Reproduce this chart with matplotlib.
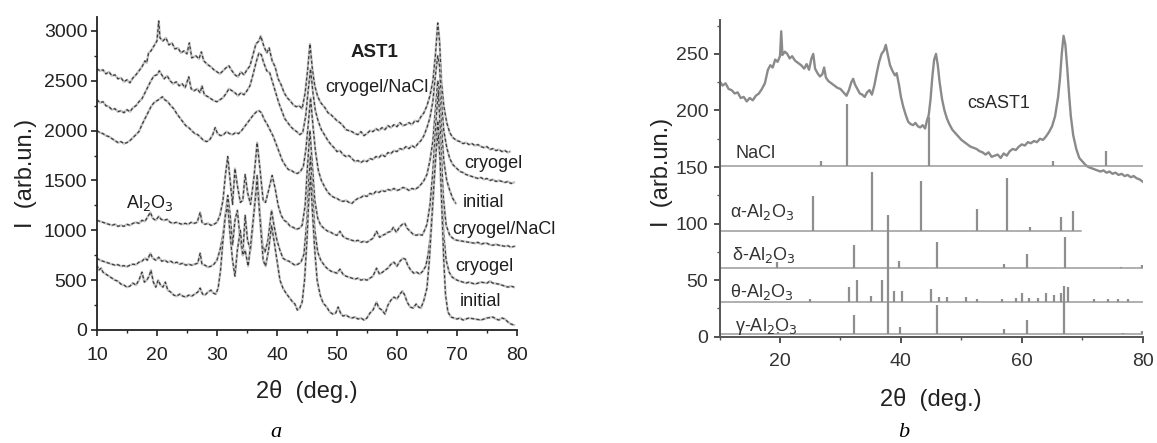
import numpy as np
import matplotlib
matplotlib.use("Agg")
import matplotlib.pyplot as plt

plt.rcParams["font.family"] = ["Liberation Sans", "DejaVu Sans"]

# ---- panel a: XRD patterns (2theta, intensity) ----
ast1_nacl = [
    (10.0, 2620), (10.5, 2600), (11.0, 2610), (11.5, 2570), (12.0, 2590), (12.5, 2550),
    (13.0, 2560), (13.5, 2520), (14.0, 2530), (14.5, 2490), (15.0, 2510), (15.5, 2480),
    (16.0, 2530), (16.5, 2560), (17.0, 2600), (17.5, 2640), (18.0, 2700), (18.3, 2680),
    (18.6, 2780), (19.0, 2800), (19.5, 2850), (20.0, 2900), (20.3, 3100), (20.5, 2930),
    (21.0, 2900), (21.5, 2930), (22.0, 2860), (22.5, 2880), (23.0, 2820), (23.5, 2830),
    (24.0, 2780), (24.5, 2800), (25.0, 2770), (25.4, 2880), (25.8, 2730), (26.5, 2750),
    (27.0, 2720), (27.4, 2790), (27.8, 2700), (28.5, 2660), (29.0, 2640), (29.5, 2610),
    (30.0, 2590), (30.5, 2570), (31.0, 2600), (31.5, 2630), (32.0, 2650), (32.5, 2600),
    (33.0, 2560), (33.5, 2540), (34.0, 2590), (34.5, 2560), (35.0, 2610), (35.5, 2650),
    (36.0, 2760), (36.5, 2870), (37.0, 2900), (37.3, 2950), (37.8, 2850), (38.3, 2780),
    (38.7, 2830), (39.2, 2700), (39.7, 2640), (40.2, 2520), (40.7, 2460), (41.2, 2380),
    (41.7, 2330), (42.2, 2300), (42.7, 2260), (43.2, 2240), (43.7, 2250), (44.2, 2220),
    (44.7, 2380), (45.1, 2600), (45.5, 2870), (45.9, 2620), (46.3, 2450), (46.8, 2340),
    (47.3, 2280), (48.0, 2230), (48.5, 2180), (49.0, 2160), (49.5, 2130), (50.0, 2100),
    (50.5, 2080), (51.0, 2050), (51.5, 2010), (52.0, 2000), (52.5, 1990), (53.0, 1970),
    (53.5, 1960), (54.0, 1990), (54.5, 1950), (55.0, 1970), (55.5, 2000), (56.0, 1990),
    (56.5, 2020), (57.0, 2000), (57.5, 2030), (58.0, 2010), (58.5, 2050), (59.0, 2030),
    (59.5, 2060), (60.0, 2040), (60.5, 2080), (61.0, 2050), (61.5, 2060), (62.0, 2080),
    (62.5, 2060), (63.0, 2100), (63.5, 2090), (64.0, 2140), (64.5, 2180), (65.0, 2250),
    (65.5, 2350), (66.0, 2500), (66.4, 2750), (66.8, 3080), (67.1, 2900), (67.4, 2500),
    (67.8, 2250), (68.3, 2080), (68.8, 1980), (69.3, 1930), (70.0, 1900), (70.5, 1890),
    (71.0, 1870), (71.5, 1880), (72.0, 1860), (72.5, 1870), (73.0, 1850), (73.5, 1860),
    (74.0, 1840), (74.5, 1830), (75.0, 1840), (75.5, 1810), (76.0, 1820), (76.5, 1800),
    (77.0, 1810), (77.5, 1790), (78.0, 1800), (78.5, 1780), (78.8, 1790),
]

ast1_cryogel = [
    (10.0, 2310), (10.5, 2280), (11.0, 2290), (11.5, 2250), (12.0, 2240), (12.5, 2210),
    (13.0, 2220), (13.5, 2190), (14.0, 2200), (14.5, 2180), (15.0, 2210), (15.5, 2190),
    (16.0, 2230), (16.5, 2250), (17.0, 2290), (17.5, 2320), (18.0, 2380), (18.5, 2440),
    (19.0, 2500), (19.5, 2550), (20.0, 2560), (20.4, 2600), (20.8, 2560), (21.2, 2520),
    (21.7, 2550), (22.2, 2500), (22.7, 2470), (23.2, 2490), (23.7, 2450), (24.2, 2470),
    (24.7, 2430), (25.3, 2540), (25.7, 2420), (26.2, 2400), (26.7, 2420), (27.2, 2380),
    (27.5, 2450), (27.9, 2360), (28.5, 2340), (29.0, 2320), (29.5, 2300), (30.0, 2290),
    (30.5, 2310), (31.0, 2330), (31.5, 2370), (32.0, 2420), (32.5, 2400), (33.0, 2380),
    (33.5, 2350), (34.0, 2380), (34.5, 2360), (35.0, 2400), (35.5, 2450), (36.0, 2560),
    (36.5, 2680), (37.0, 2780), (37.4, 2760), (37.8, 2680), (38.3, 2600), (38.8, 2580),
    (39.3, 2480), (39.8, 2380), (40.3, 2280), (40.8, 2200), (41.3, 2120), (41.8, 2080),
    (42.3, 2040), (42.8, 2010), (43.3, 1990), (43.8, 1960), (44.3, 1980), (44.8, 2150),
    (45.2, 2400), (45.6, 2620), (46.0, 2380), (46.4, 2200), (46.9, 2090), (47.4, 2010),
    (48.0, 1950), (48.5, 1900), (49.0, 1860), (49.5, 1830), (50.0, 1790), (50.5, 1800),
    (51.0, 1760), (51.5, 1740), (52.0, 1750), (52.5, 1720), (53.0, 1690), (53.5, 1700),
    (54.0, 1680), (54.5, 1700), (55.0, 1690), (55.5, 1720), (56.0, 1710), (56.5, 1740),
    (57.0, 1730), (57.5, 1760), (58.0, 1740), (58.5, 1780), (59.0, 1770), (59.5, 1800),
    (60.0, 1790), (60.5, 1820), (61.0, 1810), (61.5, 1840), (62.0, 1820), (62.5, 1850),
    (63.0, 1830), (63.5, 1870), (64.0, 1900), (64.5, 1950), (65.0, 2030), (65.5, 2130),
    (66.0, 2300), (66.4, 2550), (66.8, 2750), (67.1, 2650), (67.4, 2300), (67.8, 2000),
    (68.3, 1830), (68.8, 1720), (69.3, 1660), (70.0, 1620), (70.5, 1590), (71.0, 1580),
    (71.5, 1560), (72.0, 1550), (72.5, 1540), (73.0, 1530), (73.5, 1520), (74.0, 1530),
    (74.5, 1510), (75.0, 1520), (75.5, 1500), (76.0, 1510), (76.5, 1490), (77.0, 1500),
    (77.5, 1490), (78.0, 1480), (78.5, 1490), (79.0, 1470), (79.5, 1480),
]

ast1_initial = [
    (10.0, 2000), (10.5, 1980), (11.0, 1970), (11.5, 1950), (12.0, 1940), (12.5, 1920),
    (13.0, 1900), (13.5, 1880), (14.0, 1890), (14.5, 1870), (15.0, 1880), (15.5, 1900),
    (16.0, 1930), (16.5, 1960), (17.0, 1990), (17.5, 2060), (18.0, 2120), (18.5, 2180),
    (19.0, 2240), (19.5, 2280), (20.0, 2300), (20.5, 2320), (20.9, 2340), (21.3, 2310),
    (21.8, 2290), (22.3, 2250), (22.8, 2220), (23.3, 2170), (23.8, 2130), (24.3, 2090),
    (24.8, 2050), (25.3, 2030), (25.8, 2000), (26.3, 1970), (26.8, 1960), (27.3, 1930),
    (27.8, 1900), (28.3, 1890), (28.8, 1910), (29.3, 1960), (29.7, 2030), (30.1, 1970),
    (30.6, 1950), (31.1, 1960), (31.6, 1990), (32.1, 1970), (32.6, 1960), (33.1, 1980),
    (33.6, 1970), (34.1, 2000), (34.6, 2040), (35.1, 2080), (35.6, 2120), (36.1, 2160),
    (36.6, 2190), (37.0, 2200), (37.4, 2180), (37.9, 2110), (38.4, 2060), (38.9, 2000),
    (39.4, 1940), (39.9, 1860), (40.4, 1780), (40.9, 1700), (41.4, 1650), (41.9, 1610),
    (42.4, 1600), (42.9, 1580), (43.4, 1570), (43.9, 1590), (44.4, 1640), (44.8, 1800),
    (45.2, 2050), (45.6, 2330), (46.0, 2050), (46.4, 1800), (46.9, 1600), (47.4, 1500),
    (48.0, 1430), (48.5, 1380), (49.0, 1350), (49.5, 1330), (50.0, 1320), (50.5, 1300),
    (51.0, 1290), (51.5, 1300), (52.0, 1280), (52.5, 1270), (53.0, 1300), (53.5, 1320),
    (54.0, 1330), (54.5, 1350), (55.0, 1340), (55.5, 1370), (56.0, 1360), (56.5, 1390),
    (57.0, 1380), (57.5, 1400), (58.0, 1390), (58.5, 1410), (59.0, 1400), (59.5, 1420),
    (60.0, 1400), (60.5, 1410), (61.0, 1430), (61.5, 1420), (62.0, 1400), (62.5, 1420),
    (63.0, 1410), (63.5, 1430), (64.0, 1460), (64.5, 1500), (65.0, 1560), (65.5, 1700),
    (66.0, 1900), (66.4, 2200), (66.8, 2500), (67.1, 2400), (67.4, 2050), (67.8, 1700),
    (68.3, 1500), (68.8, 1400), (69.3, 1320), (69.8, 1270),
]

al2o3_nacl = [
    (10.0, 1100), (10.5, 1090), (11.0, 1080), (11.5, 1070), (12.0, 1060), (12.5, 1050),
    (13.0, 1060), (13.5, 1040), (14.0, 1050), (14.5, 1040), (15.0, 1060), (15.5, 1050),
    (16.0, 1070), (16.5, 1080), (17.0, 1070), (17.5, 1100), (18.0, 1090), (18.5, 1140),
    (18.9, 1180), (19.3, 1120), (19.8, 1100), (20.3, 1140), (20.7, 1110), (21.2, 1100),
    (21.7, 1110), (22.2, 1080), (22.7, 1070), (23.2, 1080), (23.7, 1070), (24.2, 1060),
    (24.7, 1070), (25.2, 1060), (25.7, 1080), (26.2, 1070), (26.7, 1080), (27.2, 1180),
    (27.5, 1080), (28.0, 1060), (28.5, 1070), (29.0, 1050), (29.5, 1060), (30.0, 1080),
    (30.5, 1150), (31.0, 1300), (31.4, 1550), (31.8, 1740), (32.2, 1500), (32.6, 1260),
    (33.0, 1620), (33.4, 1450), (33.9, 1280), (34.3, 1300), (34.7, 1560), (35.1, 1380),
    (35.6, 1260), (36.2, 1550), (36.7, 1880), (37.2, 1600), (37.7, 1300), (38.1, 1280),
    (38.6, 1400), (39.2, 1550), (39.7, 1420), (40.2, 1250), (40.7, 1150), (41.2, 1100),
    (41.7, 1080), (42.2, 1040), (42.7, 1030), (43.2, 1010), (43.7, 1020), (44.2, 1050),
    (44.7, 1250), (45.1, 1650), (45.5, 2000), (45.9, 1650), (46.3, 1300), (46.8, 1120),
    (47.3, 1050), (48.0, 1010), (48.5, 990), (49.0, 980), (49.5, 960), (50.0, 950),
    (50.5, 990), (51.0, 940), (51.5, 920), (52.0, 910), (52.5, 900), (53.0, 890),
    (53.5, 900), (54.0, 880), (54.5, 890), (55.0, 880), (55.5, 900), (56.0, 920),
    (56.6, 990), (57.1, 930), (57.6, 950), (58.0, 960), (58.5, 980), (59.0, 990),
    (59.4, 1030), (59.9, 980), (60.4, 1030), (60.9, 1060), (61.3, 1070), (61.7, 1020),
    (62.2, 990), (62.7, 960), (63.2, 950), (63.7, 960), (64.2, 950), (64.6, 1000),
    (65.0, 1060), (65.5, 1250), (66.0, 1600), (66.5, 2100), (66.9, 2400), (67.3, 1900),
    (67.7, 1350), (68.2, 1050), (68.8, 950), (69.5, 910), (70.0, 900), (70.5, 895),
    (71.0, 890), (71.5, 885), (72.0, 880), (72.5, 875), (73.0, 870), (73.5, 880),
    (74.0, 860), (74.5, 870), (75.0, 870), (75.5, 855), (76.0, 850), (76.5, 860),
    (77.0, 850), (77.5, 845), (78.0, 840), (78.5, 845), (79.0, 830), (79.6, 840),
]

al2o3_cryogel = [
    (10.0, 720), (10.5, 700), (11.0, 690), (11.5, 680), (12.0, 670), (12.5, 660),
    (13.0, 650), (13.5, 655), (14.0, 640), (14.5, 645), (15.0, 635), (15.5, 650),
    (16.0, 660), (16.5, 655), (17.0, 680), (17.5, 690), (18.0, 720), (18.4, 700),
    (18.9, 770), (19.3, 720), (19.8, 700), (20.3, 730), (20.8, 690), (21.3, 700),
    (21.8, 680), (22.3, 690), (22.8, 670), (23.3, 680), (23.8, 660), (24.3, 670),
    (24.8, 650), (25.3, 660), (25.8, 650), (26.3, 660), (26.8, 670), (27.2, 770),
    (27.5, 660), (28.0, 650), (28.5, 630), (29.0, 640), (29.5, 660), (30.0, 700),
    (30.5, 800), (31.0, 950), (31.4, 1150), (31.8, 1350), (32.2, 1150), (32.6, 850),
    (33.0, 1100), (33.4, 1200), (33.9, 900), (34.3, 750), (34.7, 1150), (35.1, 900),
    (35.6, 800), (36.2, 1200), (36.7, 1550), (37.1, 1200), (37.6, 850), (38.0, 780),
    (38.5, 900), (39.1, 1200), (39.5, 1050), (40.0, 900), (40.5, 800), (41.0, 720),
    (41.5, 700), (42.0, 690), (42.5, 670), (43.0, 650), (43.5, 660), (44.0, 680),
    (44.5, 760), (45.0, 1100), (45.3, 1500), (45.6, 1750), (45.9, 1400), (46.3, 1000),
    (46.8, 780), (47.3, 700), (48.0, 640), (48.5, 610), (49.0, 590), (49.5, 580),
    (50.0, 570), (50.5, 610), (51.0, 560), (51.5, 540), (52.0, 530), (52.5, 520),
    (53.0, 510), (53.5, 520), (54.0, 500), (54.5, 510), (55.0, 500), (55.5, 520),
    (56.0, 540), (56.6, 620), (57.1, 560), (57.6, 580), (58.0, 600), (58.5, 620),
    (59.0, 660), (59.5, 680), (60.0, 640), (60.5, 690), (61.0, 720), (61.4, 710),
    (61.8, 650), (62.3, 600), (62.8, 570), (63.3, 580), (63.8, 560), (64.3, 590),
    (64.8, 640), (65.2, 760), (65.6, 950), (66.0, 1300), (66.4, 1750), (66.8, 2100),
    (67.1, 1900), (67.4, 1400), (67.8, 950), (68.2, 700), (68.7, 580), (69.2, 530),
    (70.0, 500), (70.5, 490), (71.0, 480), (71.5, 470), (72.0, 480), (72.5, 470),
    (73.0, 460), (74.0, 480), (75.0, 470), (75.5, 490), (76.0, 470), (77.0, 460),
    (78.0, 440), (78.5, 430), (79.0, 440), (79.5, 430),
]

al2o3_initial = [
    (10.0, 650), (10.3, 600), (10.7, 620), (11.0, 580), (11.5, 560), (12.0, 540),
    (12.5, 520), (13.0, 500), (13.5, 490), (14.0, 460), (14.5, 450), (15.0, 430),
    (15.5, 440), (16.0, 470), (16.5, 450), (17.0, 500), (17.5, 580), (17.9, 480),
    (18.3, 500), (18.7, 540), (19.0, 600), (19.4, 480), (19.8, 430), (20.2, 500),
    (20.6, 450), (21.0, 430), (21.4, 480), (21.8, 400), (22.3, 380), (22.8, 350),
    (23.3, 340), (23.8, 360), (24.3, 340), (24.8, 330), (25.3, 350), (25.8, 340),
    (26.3, 360), (26.8, 380), (27.2, 420), (27.6, 360), (28.0, 350), (28.5, 380),
    (29.0, 400), (29.4, 370), (29.8, 360), (30.2, 420), (30.6, 600), (31.0, 900),
    (31.4, 1150), (31.8, 1250), (32.2, 950), (32.6, 700), (33.0, 540), (33.4, 800),
    (33.9, 1000), (34.3, 750), (34.7, 800), (35.2, 640), (35.7, 900), (36.2, 1200),
    (36.7, 1500), (37.2, 1100), (37.7, 700), (38.1, 640), (38.6, 800), (39.1, 1050),
    (39.5, 900), (40.0, 700), (40.5, 500), (41.0, 420), (41.5, 370), (42.0, 330),
    (42.5, 290), (43.0, 260), (43.4, 200), (43.8, 220), (44.2, 280), (44.6, 500),
    (45.0, 900), (45.3, 1300), (45.6, 1550), (45.9, 1200), (46.3, 800), (46.7, 500),
    (47.2, 350), (47.7, 270), (48.3, 230), (48.8, 180), (49.3, 160), (49.8, 170),
    (50.2, 230), (50.6, 170), (51.0, 140), (51.5, 150), (52.0, 130), (52.5, 120),
    (53.0, 130), (53.5, 110), (54.0, 120), (54.5, 100), (55.0, 120), (55.5, 170),
    (56.0, 200), (56.6, 280), (57.0, 220), (57.5, 200), (58.0, 160), (58.5, 250),
    (59.0, 300), (59.5, 330), (60.0, 310), (60.5, 360), (60.9, 390), (61.3, 350),
    (61.7, 280), (62.2, 230), (62.7, 220), (63.2, 260), (63.6, 230), (64.0, 220),
    (64.5, 300), (65.0, 420), (65.4, 700), (65.8, 1100), (66.2, 1500), (66.6, 1850),
    (66.9, 1950), (67.2, 1700), (67.5, 1200), (67.8, 700), (68.1, 350), (68.5, 180),
    (69.0, 130), (69.5, 120), (70.0, 110), (70.5, 120), (71.0, 100), (71.5, 110),
    (72.0, 120), (73.0, 110), (74.0, 100), (75.0, 120), (76.0, 130), (76.5, 110),
    (77.0, 100), (77.5, 120), (78.0, 110), (78.5, 80), (79.0, 60), (79.5, 50),
]

# ---- panel b: csAST1 pattern and reference sticks ----
csast1 = [
    (10.0, 226), (10.5, 222), (11.0, 224), (11.5, 219), (12.0, 218), (12.5, 215),
    (13.0, 216), (13.5, 211), (14.0, 212), (14.5, 208), (15.0, 211), (15.5, 209),
    (16.0, 213), (16.5, 215), (17.0, 219), (17.5, 224), (18.0, 236), (18.4, 240),
    (18.8, 238), (19.2, 245), (19.6, 243), (20.0, 248), (20.2, 270), (20.4, 249),
    (20.8, 252), (21.2, 250), (21.6, 246), (22.0, 248), (22.5, 244), (23.0, 242),
    (23.5, 240), (24.0, 237), (24.4, 241), (24.8, 236), (25.2, 246), (25.5, 250),
    (25.8, 237), (26.2, 233), (26.6, 230), (27.0, 232), (27.3, 238), (27.6, 229),
    (28.0, 226), (28.5, 224), (29.0, 222), (29.5, 220), (30.0, 219), (30.5, 216),
    (31.0, 213), (31.4, 218), (31.8, 225), (32.1, 228), (32.4, 223), (32.8, 219),
    (33.2, 215), (33.6, 214), (34.0, 212), (34.4, 216), (34.8, 218), (35.2, 214),
    (35.6, 222), (36.0, 233), (36.4, 243), (36.8, 250), (37.2, 253), (37.5, 258),
    (37.8, 250), (38.2, 240), (38.6, 235), (39.0, 231), (39.3, 233), (39.7, 222),
    (40.0, 212), (40.4, 203), (40.8, 196), (41.2, 190), (41.6, 188), (42.0, 187),
    (42.4, 189), (42.8, 186), (43.2, 185), (43.6, 187), (44.0, 184), (44.3, 191),
    (44.6, 196), (44.9, 210), (45.2, 230), (45.5, 245), (45.8, 250), (46.1, 240),
    (46.4, 225), (46.8, 210), (47.2, 200), (47.6, 193), (48.0, 188), (48.5, 183),
    (49.0, 180), (49.5, 177), (50.0, 174), (50.5, 172), (51.0, 170), (51.5, 168),
    (52.0, 167), (52.5, 166), (53.0, 164), (53.5, 163), (54.0, 161), (54.5, 163),
    (55.0, 159), (55.5, 160), (56.0, 161), (56.5, 158), (57.0, 162), (57.5, 160),
    (58.0, 164), (58.5, 166), (59.0, 165), (59.5, 168), (60.0, 170), (60.5, 169),
    (61.0, 172), (61.5, 171), (62.0, 173), (62.5, 172), (63.0, 175), (63.5, 174),
    (64.0, 177), (64.5, 181), (65.0, 186), (65.5, 195), (66.0, 212), (66.3, 228),
    (66.6, 250), (66.9, 266), (67.2, 258), (67.5, 238), (67.8, 215), (68.1, 195),
    (68.5, 178), (69.0, 166), (69.5, 158), (70.0, 155), (70.5, 152), (71.0, 150),
    (71.5, 149), (72.0, 148), (72.5, 147), (73.0, 146), (73.5, 147), (74.0, 145),
    (74.5, 146), (75.0, 144), (75.5, 145), (76.0, 143), (76.5, 144), (77.0, 142),
    (77.5, 143), (78.0, 141), (78.5, 142), (79.0, 140), (79.5, 139), (80.0, 137),
]

# reference patterns: peak positions and heights above each baseline
nacl_pos = [26.8, 31.1, 44.6, 65.2, 74.0]
nacl_h = [4, 55, 43, 4, 13]
alpha_pos = [25.5, 35.2, 43.4, 52.6, 57.5, 61.4, 66.5, 68.4]
alpha_h = [31, 53, 45, 20, 47, 4, 13, 18]
delta_pos = [19.5, 32.2, 37.8, 39.6, 46.0, 57.1, 60.9, 67.1, 76.4, 79.9]
delta_h = [5, 20, 47, 6, 23, 3, 12, 27, 1, 2]
theta_pos = [25.0, 31.4, 32.7, 35.0, 36.9, 37.8, 38.8, 40.2, 44.9, 46.3, 47.7,
             50.7, 52.6, 56.8, 59.0, 60.1, 61.2, 62.6, 64.0, 65.4, 66.5, 67.6,
             71.9, 74.2, 75.9, 77.5]
theta_h = [2, 13, 19, 5, 19, 30, 9, 9, 11, 4, 4, 4, 2, 2, 3, 8, 3, 3, 8, 6, 8, 13,
           2, 2, 2, 2]
gamma_pos = [19.7, 32.2, 37.8, 39.8, 46.0, 57.1, 60.9, 67.0, 76.7, 79.9]
gamma_h = [2, 17, 29, 7, 26, 5, 13, 43, 1, 3]

ref_names = ["NaCl", "α-Al$_2$O$_3$", "δ-Al$_2$O$_3$", "θ-Al$_2$O$_3$", "γ-Al$_2$O$_3$"]
ref_base = [151, 93, 61, 31, 2]
ref_end = [80, 69.8, 80, 80, 80]

fig = plt.figure(figsize=(11.57, 4.43), dpi=100)

# ================= panel a =================
ax = fig.add_axes([0.0838, 0.2551, 0.3630, 0.7065])
curves = [ast1_nacl, ast1_cryogel, ast1_initial, al2o3_nacl, al2o3_cryogel, al2o3_initial]
for c in curves:
    x, y = np.array(c).T
    ax.plot(x, y, color="#c4c4c4", lw=1.7, solid_joinstyle="round")
    ax.plot(x, y, color="#3c3c3c", lw=0.9, linestyle=(0, (2.5, 1.8)))

ax.set_xlim(10, 80)
ax.set_ylim(0, 3140)
ax.set_xticks(np.arange(10, 81, 10))
ax.set_xticks(np.arange(15, 80, 10), minor=True)
ax.set_yticks(np.arange(0, 3001, 500))
ax.set_yticks(np.arange(250, 3001, 500), minor=True)
for s in ["top", "right"]:
    ax.spines[s].set_visible(False)
for s in ["left", "bottom"]:
    ax.spines[s].set_linewidth(1.3)
    ax.spines[s].set_color("#222222")
ax.tick_params(which="major", direction="out", length=4, width=1.2, labelsize=14,
               colors="#222222")
ax.tick_params(which="minor", direction="out", length=2.5, width=1.0, colors="#222222")
ax.tick_params(axis="x", pad=8)
ax.tick_params(axis="y", pad=3)
ax.set_xlabel("2θ  (deg.)", fontsize=17, color="#222222")
ax.xaxis.set_label_coords(0.5, -0.16)
ax.xaxis.label.set_va("top")
ax.set_ylabel("I  (arb.un.)", fontsize=17, color="#222222")
ax.yaxis.set_label_coords(-0.143, 0.5)

txt = dict(fontsize=13, color="#1e1e1e", va="center")
ax.text(56.3, 2780, "AST1", ha="center", fontweight="bold", fontsize=13.5,
        color="#1e1e1e", va="center")
ax.text(56.7, 2430, "cryogel/NaCl", ha="center", **txt)
ax.text(71.3, 1675, "cryogel", ha="left", **txt)
ax.text(71.0, 1284, "initial", ha="left", **txt)
ax.text(69.2, 1013, "cryogel/NaCl", ha="left", clip_on=False, **txt)
ax.text(69.7, 632, "cryogel", ha="left", **txt)
ax.text(70.5, 281, "initial", ha="left", **txt)
ax.text(18.8, 1274, "Al$_2$O$_3$", ha="center", **txt)

# ================= panel b =================
bx = fig.add_axes([0.6219, 0.2400, 0.3658, 0.7149])
x, y = np.array(csast1).T
bx.plot(x, y, color="#8a8a8a", lw=1.7)

ref_pos = [nacl_pos, alpha_pos, delta_pos, theta_pos, gamma_pos]
ref_h = [nacl_h, alpha_h, delta_h, theta_h, gamma_h]
for base, end, pos, h in zip(ref_base, ref_end, ref_pos, ref_h):
    bx.plot([10, end], [base, base], color="#9a9a9a", lw=1.1)
    bx.vlines(pos, base, np.array(h) + base, color="#8e8e8e", lw=1.6)

bx.set_xlim(10, 80)
bx.set_ylim(0, 280)
bx.set_xticks([20, 40, 60, 80])
bx.set_xticks([10, 30, 50, 70], minor=True)
bx.set_yticks(np.arange(0, 251, 50))
bx.set_yticks(np.arange(25, 276, 25), minor=True)
for s in ["top", "right"]:
    bx.spines[s].set_visible(False)
for s in ["left", "bottom"]:
    bx.spines[s].set_linewidth(1.4)
    bx.spines[s].set_color("#555555")
bx.tick_params(which="major", direction="out", length=4, width=1.2, labelsize=14,
               colors="#333333")
bx.tick_params(which="minor", direction="out", length=2.5, width=1.0, colors="#555555")
bx.tick_params(axis="x", pad=8)
bx.tick_params(axis="y", pad=4)
bx.set_xlabel("2θ  (deg.)", fontsize=17, color="#222222")
bx.xaxis.set_label_coords(0.5, -0.162)
bx.xaxis.label.set_va("top")
bx.set_ylabel("I  (arb.un.)", fontsize=17, color="#222222")
bx.yaxis.set_label_coords(-0.11, 0.52)

btxt = dict(fontsize=13, color="#333333", va="center", ha="left")
bx.text(56.2, 206, "csAST1", fontsize=13, color="#2a2a2a", va="center", ha="center")
bx.text(12.6, 162, ref_names[0], **btxt)
bx.text(11.7, 110, ref_names[1], **btxt)
bx.text(12.1, 72, ref_names[2], **btxt)
bx.text(11.7, 39.5, ref_names[3], **btxt)
bx.text(12.6, 8.6, ref_names[4], **btxt)

fig.text(0.2386, 0.0226, "a", fontsize=16, style="italic", family="Liberation Serif",
         ha="center", va="center")
fig.text(0.781, 0.0226, "b", fontsize=16, style="italic", family="Liberation Serif",
         ha="center", va="center")

fig.savefig("out.png", dpi=100)
